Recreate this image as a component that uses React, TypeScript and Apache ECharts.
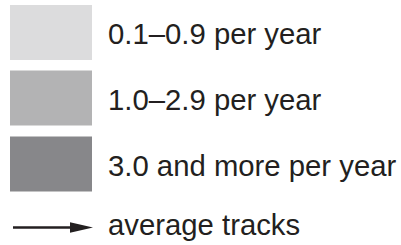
import React, { useEffect, useRef } from "react";
import * as echarts from "echarts";

const labels = ["0.1–0.9 per year", "1.0–2.9 per year", "3.0 and more per year"];
const colors = ["#dcdcdd", "#b3b3b4", "#87878a"];
const arrowLabel = "average tracks";

export default function App() {
  const ref = useRef<HTMLDivElement>(null);
  useEffect(() => {
    if (!ref.current) return;
    const chart = echarts.init(ref.current, undefined, { renderer: "svg" });
    const boxTops = [5, 70.5, 136.5];
    const boxH = 55;
    const font = "29.3px 'Liberation Sans', Arial, sans-serif";
    const elements: any[] = [];
    labels.forEach((l, i) => {
      elements.push({
        type: "rect",
        shape: { x: 10, y: boxTops[i], width: 82, height: boxH },
        style: { fill: colors[i] },
      });
      elements.push({
        type: "text",
        x: 108,
        y: boxTops[i] + boxH / 2 + 1,
        style: {
          text: l,
          fill: "#231f20",
          font,
          textVerticalAlign: "middle",
          textAlign: "left",
        },
      });
    });
    elements.push({
      type: "line",
      shape: { x1: 13, y1: 227.5, x2: 75, y2: 227.5 },
      style: { stroke: "#231f20", lineWidth: 2.6 },
    });
    elements.push({
      type: "polygon",
      shape: { points: [[70, 222.3], [93, 227.5], [70, 232.7]] },
      style: { fill: "#231f20" },
    });
    elements.push({
      type: "text",
      x: 108,
      y: 224,
      style: {
        text: arrowLabel,
        fill: "#231f20",
        font,
        textVerticalAlign: "middle",
        textAlign: "left",
      },
    });
    chart.setOption({
      animation: false,
      backgroundColor: "#ffffff",
      graphic: { elements },
    });
    return () => chart.dispose();
  }, []);
  return (
    <div
      ref={ref}
      style={{ position: "fixed", left: 0, top: 0, width: 401, height: 245 }}
    />
  );
}
